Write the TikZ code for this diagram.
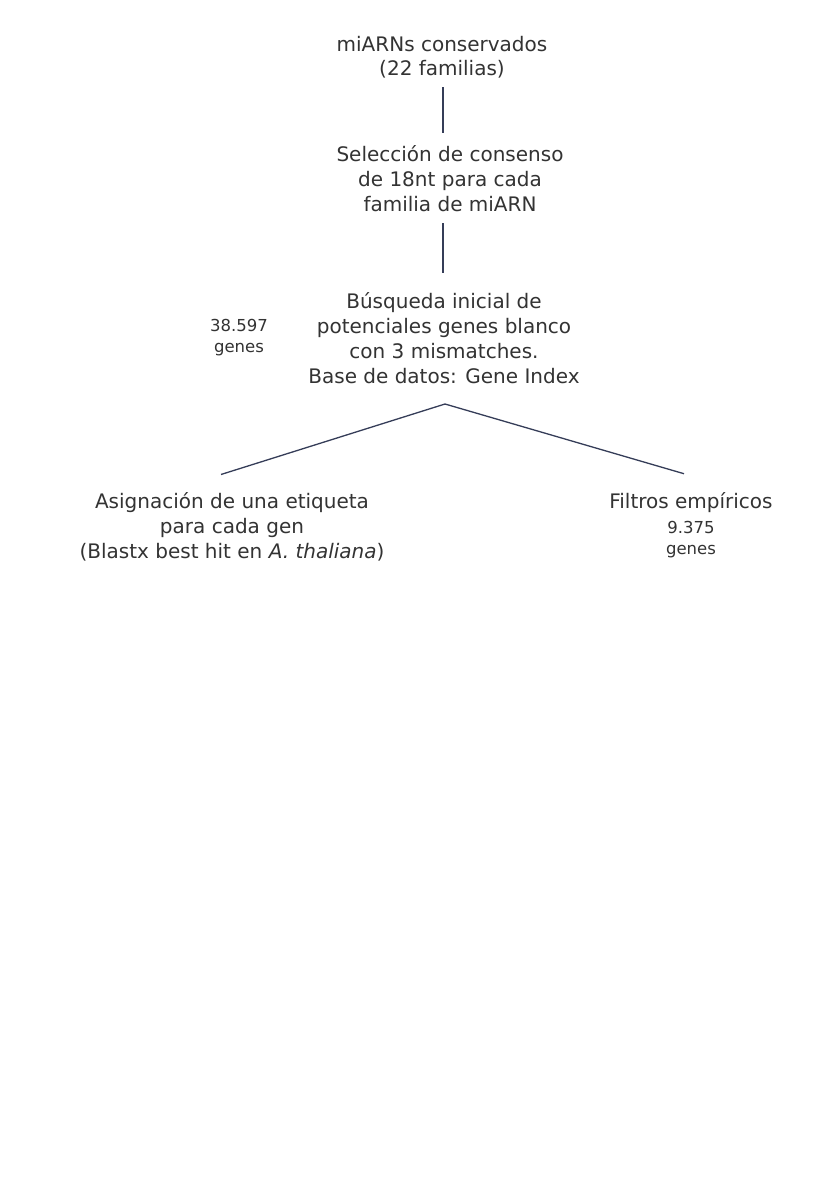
\documentclass[tikz,border=0pt]{standalone}
\usepackage{fontspec}
\setmainfont{DejaVu Sans}
\definecolor{txt}{HTML}{333333}
\definecolor{edge}{HTML}{353D58}
\begin{document}
\begin{tikzpicture}[x=1pt,y=-1pt,
  stepbox/.style={align=center,text=txt,inner sep=0pt,
    font=\fontsize{20}{25}\selectfont},
  countbox/.style={align=center,text=txt,inner sep=0pt,
    font=\fontsize{16.5}{21}\selectfont},
  link/.style={draw=edge,line width=1.3pt}]
\useasboundingbox[fill=white] (0,0) rectangle (825,1183);

% flow steps
\node[stepbox,font=\fontsize{20}{24}\selectfont] (mirna) at (442,57) {miARNs conservados\\(22 familias)};
\node[stepbox] (cons) at (450,179) {Selección de consenso\\de 18nt para cada\\familia de miARN};
\node[stepbox] (search) at (444,338.5) {Búsqueda inicial de\\potenciales genes blanco\\con 3 mismatches.\\Base de datos: Gene Index};
\node[countbox] (n1) at (239,338) {38.597\\genes};
\node[stepbox] (label) at (232,527) {Asignación de una etiqueta\\para cada gen\\(Blastx best hit en \textit{A. thaliana})};
\node[stepbox] (filt) at (691,503) {Filtros empíricos};
\node[countbox] (n2) at (691,540) {9.375\\genes};

% connectors
\coordinate (split) at (445,404);
\draw[link] ([yshift=-9pt]mirna.south -| 443,0) -- ([yshift=13pt]cons.north -| 443,0);
\draw[link] ([yshift=-11pt]cons.south -| 443,0) -- ([yshift=20pt]search.north -| 443,0);
\draw[link] (split) -- ([yshift=18pt]label.north -| 221,0);
\draw[link] (split) -- ([yshift=19pt]filt.north -| 684,0);
\end{tikzpicture}
\end{document}
